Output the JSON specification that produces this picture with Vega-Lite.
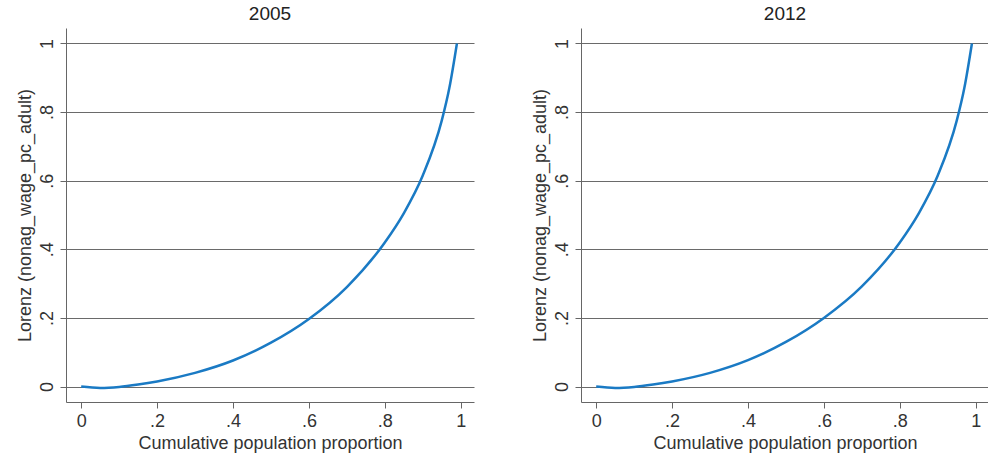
{
  "$schema": "https://vega.github.io/schema/vega-lite/v6.json",
  "background": "white",
  "padding": {"left": 16, "top": 5, "right": 0, "bottom": 5},
  "data": {
    "values": [
      {"year": "2005", "p": 0, "L": 0},
      {"year": "2005", "p": 0.05, "L": -0.004},
      {"year": "2005", "p": 0.1, "L": -0.001},
      {"year": "2005", "p": 0.15, "L": 0.006},
      {"year": "2005", "p": 0.2, "L": 0.015},
      {"year": "2005", "p": 0.3, "L": 0.04},
      {"year": "2005", "p": 0.4, "L": 0.076},
      {"year": "2005", "p": 0.5, "L": 0.128},
      {"year": "2005", "p": 0.6, "L": 0.197},
      {"year": "2005", "p": 0.7, "L": 0.29},
      {"year": "2005", "p": 0.8, "L": 0.42},
      {"year": "2005", "p": 0.85, "L": 0.505},
      {"year": "2005", "p": 0.9, "L": 0.615},
      {"year": "2005", "p": 0.95, "L": 0.775},
      {"year": "2005", "p": 0.97, "L": 0.87},
      {"year": "2005", "p": 0.99, "L": 1},
      {"year": "2012", "p": 0, "L": 0},
      {"year": "2012", "p": 0.05, "L": -0.004},
      {"year": "2012", "p": 0.1, "L": -0.001},
      {"year": "2012", "p": 0.15, "L": 0.006},
      {"year": "2012", "p": 0.2, "L": 0.015},
      {"year": "2012", "p": 0.3, "L": 0.04},
      {"year": "2012", "p": 0.4, "L": 0.077},
      {"year": "2012", "p": 0.5, "L": 0.13},
      {"year": "2012", "p": 0.6, "L": 0.2},
      {"year": "2012", "p": 0.7, "L": 0.292},
      {"year": "2012", "p": 0.8, "L": 0.42},
      {"year": "2012", "p": 0.85, "L": 0.505},
      {"year": "2012", "p": 0.9, "L": 0.615},
      {"year": "2012", "p": 0.95, "L": 0.775},
      {"year": "2012", "p": 0.97, "L": 0.87},
      {"year": "2012", "p": 0.99, "L": 1}
    ]
  },
  "facet": {
    "column": {
      "field": "year",
      "type": "nominal",
      "title": null,
      "header": {"labelFontSize": 19, "labelFont": "Liberation Sans", "labelColor": "#222", "labelPadding": 4}
    }
  },
  "spacing": 57,
  "resolve": {"axis": {"y": "independent"}},
  "spec": {
    "width": 408,
    "height": 374,
    "mark": {"type": "line", "interpolate": "monotone", "color": "#1a7ac4", "strokeWidth": 2.5, "clip": true},
    "encoding": {
      "x": {
        "field": "p",
        "type": "quantitative",
        "scale": {"domain": [-0.04, 1.035], "nice": false, "zero": false},
        "axis": {"values": [0, 0.2, 0.4, 0.6, 0.8, 1], "labelExpr": "datum.value == 0 ? '0' : datum.value == 1 ? '1' : replace(format(datum.value, '.1f'), '0.', '.')", "grid": false, "title": "Cumulative population proportion"}
      },
      "y": {
        "field": "L",
        "type": "quantitative",
        "scale": {"domain": [-0.045, 1.045], "nice": false, "zero": false},
        "axis": {"values": [0, 0.2, 0.4, 0.6, 0.8, 1], "labelExpr": "datum.value == 0 ? '0' : datum.value == 1 ? '1' : replace(format(datum.value, '.1f'), '0.', '.')", "grid": true, "labelAngle": -90, "labelAlign": "center", "labelBaseline": "bottom", "title": "Lorenz (nonag_wage_pc_adult)"}
      }
    }
  },
  "config": {
    "view": {"stroke": null},
    "font": "Liberation Sans",
    "axis": {
      "labelFont": "Liberation Sans",
      "titleFont": "Liberation Sans",
      "labelFontSize": 18,
      "titleFontSize": 18,
      "titleFontWeight": "normal",
      "labelColor": "#333",
      "titleColor": "#333",
      "domainColor": "#666",
      "tickColor": "#666",
      "tickSize": 6,
      "labelPadding": 4,
      "titlePadding": 4,
      "gridColor": "#444",
      "gridWidth": 0.8,
      "gridOpacity": 1
    }
  }
}
